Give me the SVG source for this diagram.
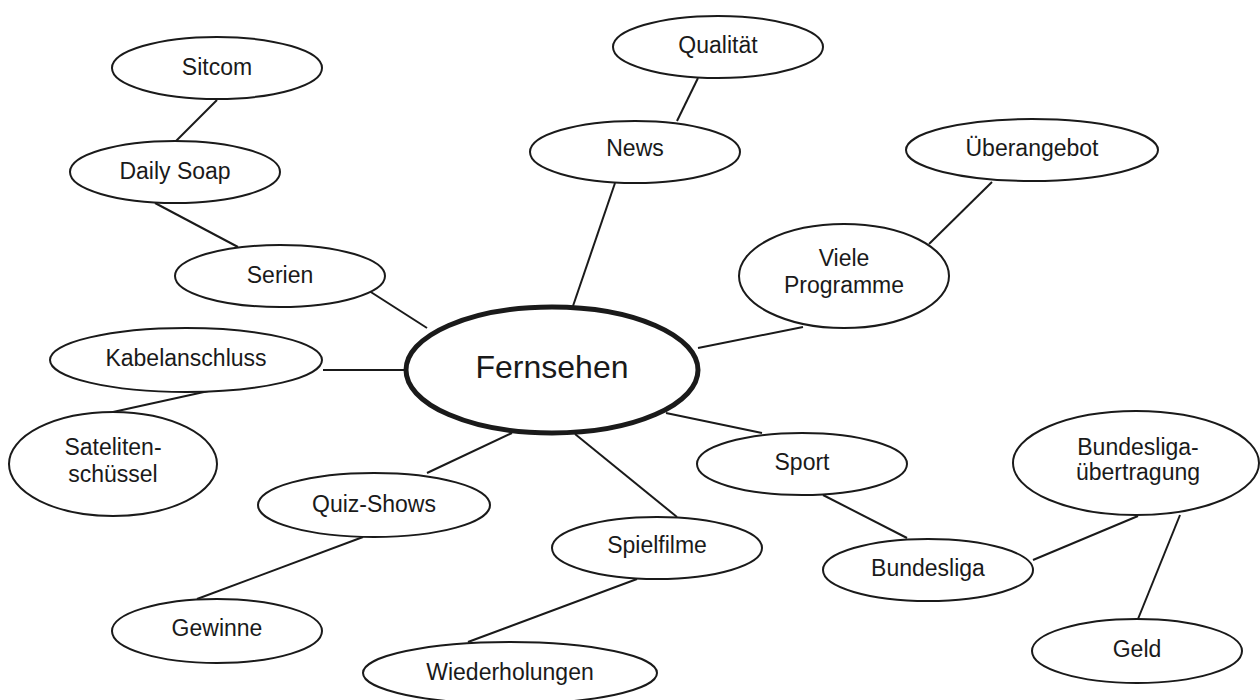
<svg xmlns="http://www.w3.org/2000/svg" width="1260" height="700" viewBox="0 0 1260 700">
<style>
.n ellipse{fill:#fff;stroke:#1a1a1a;stroke-width:2}
.c ellipse{fill:#fff;stroke:#1a1a1a;stroke-width:5}
text{font-family:"Liberation Sans",Arial,sans-serif;font-size:23px;fill:#1a1a1a;text-anchor:middle}
.big{font-size:32px}
#connectors line{stroke:#1a1a1a;stroke-width:2}
</style>
<rect width="1260" height="700" fill="#fff"/>
<g id="connectors">
<line x1="217" y1="100" x2="176" y2="141"/>
<line x1="155" y1="203" x2="238" y2="247"/>
<line x1="363" y1="287" x2="427" y2="328"/>
<line x1="323" y1="370" x2="405" y2="370"/>
<line x1="213" y1="390" x2="113" y2="412"/>
<line x1="573" y1="306" x2="615" y2="183"/>
<line x1="677" y1="121" x2="698" y2="78"/>
<line x1="698" y1="348" x2="803" y2="327"/>
<line x1="929" y1="244" x2="992" y2="182"/>
<line x1="512" y1="433" x2="427" y2="473"/>
<line x1="575" y1="434" x2="677" y2="517"/>
<line x1="666" y1="413" x2="762" y2="433"/>
<line x1="823" y1="495" x2="907" y2="538"/>
<line x1="1033" y1="560" x2="1138" y2="516"/>
<line x1="1180" y1="515" x2="1138" y2="619"/>
<line x1="363" y1="537" x2="197" y2="599"/>
<line x1="637" y1="579" x2="468" y2="642"/>
</g>
<g id="fernsehen" class="c"><ellipse cx="552" cy="370" rx="146" ry="63"/><text class="big" x="552" y="378">Fernsehen</text></g>
<g id="sitcom" class="n"><ellipse cx="217" cy="68" rx="105" ry="31"/><text x="217" y="75">Sitcom</text></g>
<g id="dailysoap" class="n"><ellipse cx="175" cy="172" rx="105" ry="31"/><text x="175" y="179">Daily Soap</text></g>
<g id="serien" class="n"><ellipse cx="280" cy="276" rx="105" ry="31"/><text x="280" y="283">Serien</text></g>
<g id="kabelanschluss" class="n"><ellipse cx="186" cy="360" rx="136" ry="32"/><text x="186" y="366">Kabelanschluss</text></g>
<g id="satelitenschuessel" class="n"><ellipse cx="113" cy="464" rx="104" ry="52"/><text x="113" y="455">Sateliten-</text><text x="113" y="482">schüssel</text></g>
<g id="qualitaet" class="n"><ellipse cx="718" cy="47" rx="105" ry="31"/><text x="718" y="53">Qualität</text></g>
<g id="news" class="n"><ellipse cx="635" cy="152" rx="105" ry="31"/><text x="635" y="156">News</text></g>
<g id="ueberangebot" class="n"><ellipse cx="1032" cy="150" rx="126" ry="31"/><text x="1032" y="156">Überangebot</text></g>
<g id="vieleprogramme" class="n"><ellipse cx="844" cy="276" rx="105" ry="52"/><text x="844" y="266">Viele</text><text x="844" y="293">Programme</text></g>
<g id="quizshows" class="n"><ellipse cx="374" cy="505" rx="116" ry="32"/><text x="374" y="512">Quiz-Shows</text></g>
<g id="spielfilme" class="n"><ellipse cx="657" cy="548" rx="105" ry="31"/><text x="657" y="553">Spielfilme</text></g>
<g id="sport" class="n"><ellipse cx="802" cy="464" rx="105" ry="31"/><text x="802" y="470">Sport</text></g>
<g id="bundesligauebertragung" class="n"><ellipse cx="1136" cy="463" rx="123" ry="52"/><text x="1138" y="455">Bundesliga-</text><text x="1138" y="480">übertragung</text></g>
<g id="bundesliga" class="n"><ellipse cx="928" cy="570" rx="105" ry="31"/><text x="928" y="576">Bundesliga</text></g>
<g id="geld" class="n"><ellipse cx="1137" cy="651" rx="105" ry="32"/><text x="1137" y="657">Geld</text></g>
<g id="gewinne" class="n"><ellipse cx="217" cy="631" rx="105" ry="32"/><text x="217" y="636">Gewinne</text></g>
<g id="wiederholungen" class="n"><ellipse cx="510" cy="673" rx="147" ry="31"/><text x="510" y="680">Wiederholungen</text></g>
</svg>
